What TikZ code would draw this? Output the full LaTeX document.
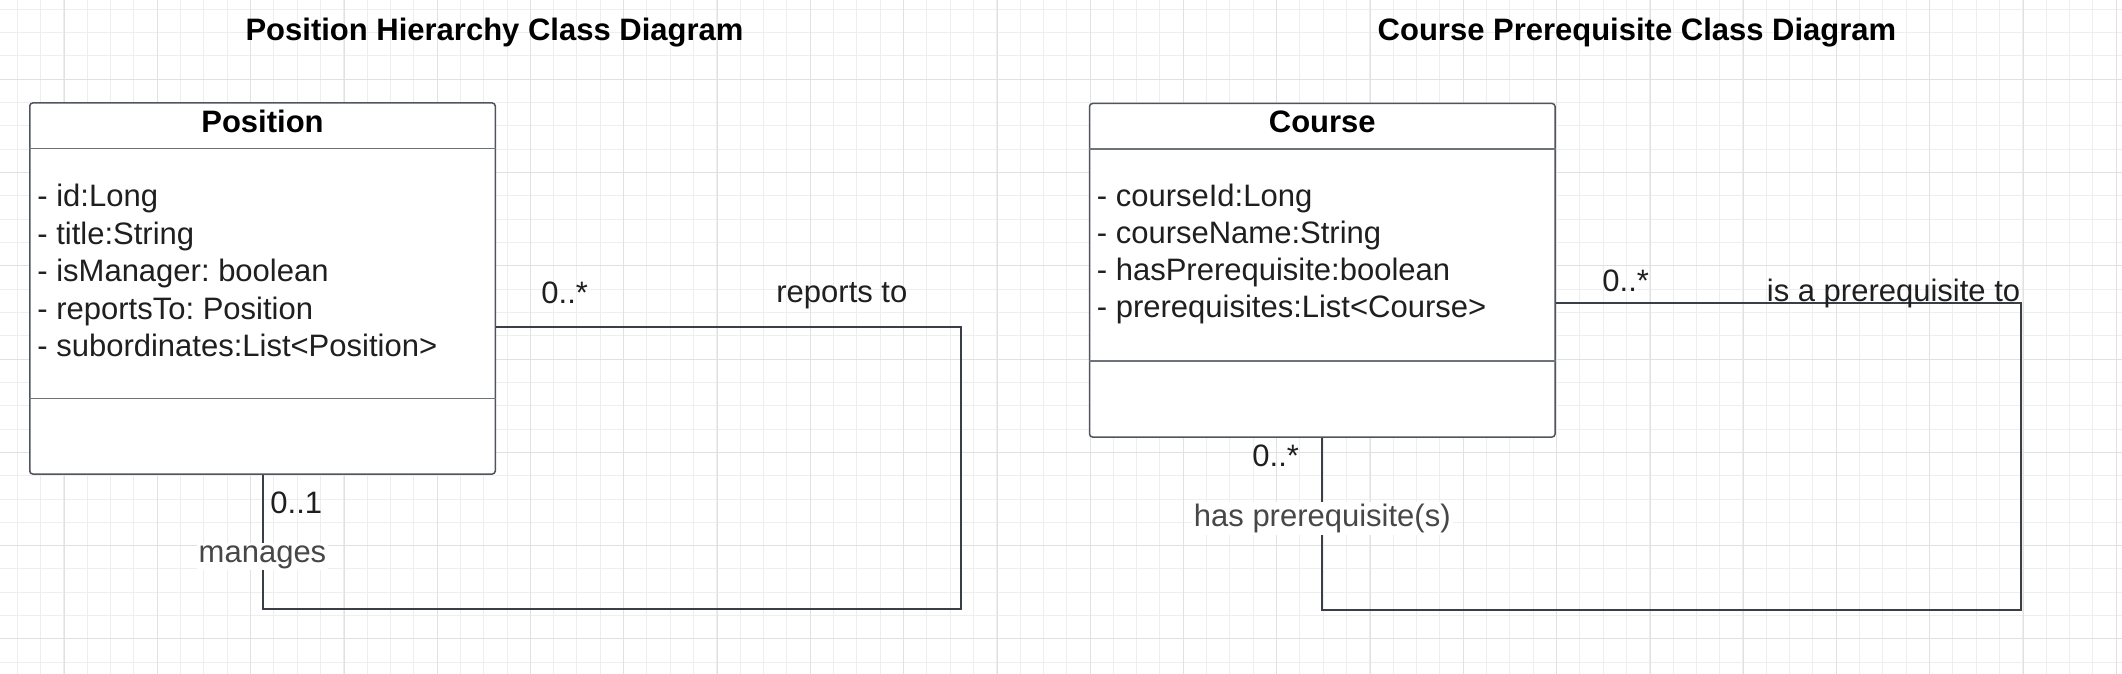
\documentclass[tikz,border=0pt]{standalone}
\usepackage{fontspec}
\setmainfont{Liberation Sans}
\usetikzlibrary{positioning}

\definecolor{gridminor}{HTML}{EEEEEE}
\definecolor{gridmajor}{HTML}{E1E1E1}
\definecolor{boxline}{HTML}{50555D}
\definecolor{linkline}{HTML}{3A3F47}
\definecolor{sepline}{HTML}{6E737A}
\definecolor{roletext}{HTML}{474747}

\tikzset{
  classbox/.style={draw=boxline, line width=0.75pt, rounded corners=1.5pt, fill=white,
    minimum width=232.75pt, inner sep=0pt},
  compsep/.style={draw=sepline, line width=0.75pt},
  heading/.style={font=\fontsize{15.5}{18}\selectfont\bfseries, inner sep=0pt},
  classname/.style={font=\fontsize{15.5}{18}\selectfont\bfseries, inner sep=0pt},
  attr/.style={font=\fontsize{15.5}{18}\selectfont\frenchspacing, text=black!88, inner sep=0pt},
  mult/.style={font=\fontsize{15.5}{18}\selectfont, text=black!88, inner sep=0pt},
  role/.style={font=\fontsize{15.5}{18}\selectfont, text=roletext, fill=white, inner sep=1pt},
  assoc/.style={draw=linkline, line width=1pt}
}

\begin{document}
\begin{tikzpicture}[x=0.5pt,y=-0.5pt]
    \useasboundingbox[fill=white] (0,0) rectangle (2122,674);
    % background grid
    \foreach \k in {0,...,90}
        \draw[gridminor, line width=0.5pt] ({17.3+23.32*\k},0) -- ({17.3+23.32*\k},674);
    \foreach \k in {0,...,28}
        \draw[gridminor, line width=0.5pt] (0,{9.3+23.32*\k}) -- (2122,{9.3+23.32*\k});
    \foreach \k in {0,...,22}
        \draw[gridmajor, line width=0.5pt] ({64.3+93.28*\k},0) -- ({64.3+93.28*\k},674);
    \foreach \k in {0,...,6}
        \draw[gridmajor, line width=0.5pt] (0,{79.3+93.28*\k}) -- (2122,{79.3+93.28*\k});

    % titles
    \node[heading, anchor=base] (title-pos) at (494.5,40.5) {Position Hierarchy Class Diagram};
    \node[heading, anchor=base] (title-course) at (1637,40.5) {Course Prerequisite Class Diagram};

    % Position class
    \node[classbox, minimum height=185.5pt] (position) at (262.5,288.5) {};
    \draw[compsep] ([yshift=-23.25pt]position.north west) -- ([yshift=-23.25pt]position.north east);
    \draw[compsep] ([yshift=-148pt]position.north west) -- ([yshift=-148pt]position.north east);
    \node[classname, anchor=base] (position-name) at (262.5,132.7) {Position};
    \foreach \a [count=\i] in {- id:Long, - title:String, - isManager: boolean,
                               - reportsTo: Position, - subordinates:List<Position>}
        \node[attr, anchor=base west] (pos-attr-\i) at (37,{206.7+37.5*(\i-1)}) {\a};

    % Course class
    \node[classbox, minimum height=166.75pt] (course) at (1322.3,270.25) {};
    \draw[compsep] ([yshift=-23.1pt]course.north west) -- ([yshift=-23.1pt]course.north east);
    \draw[compsep] ([yshift=-129.15pt]course.north west) -- ([yshift=-129.15pt]course.north east);
    \node[classname, anchor=base] (course-name) at (1322.3,132.3) {Course};
    \foreach \a [count=\i] in {- courseId:Long, - courseName:String,
                               - hasPrerequisite:boolean, - prerequisites:List<Course>}
        \node[attr, anchor=base west] (course-attr-\i) at (1096.5,{206.2+37*(\i-1)}) {\a};

    % self associations
    \coordinate (pos-corner) at (960.5,609.3);
    \draw[assoc] ([yshift=-19.1pt]position.east) -| (pos-corner) -| (position.south);
    \node[mult, anchor=base west] (pos-many) at (541,303.3) {0..*};
    \node[mult, anchor=base west] (pos-reports) at (776,302.5) {reports to};
    \node[mult, anchor=base west] (pos-one) at (270,513.3) {0..1};
    \node[role, anchor=base] (pos-manages) at (262.5,562) {manages};

    \coordinate (course-corner) at (2020.8,609.5);
    \draw[assoc] ([yshift=-16.6pt]course.east) -| (course-corner) -| (course.south);
    \node[mult, anchor=base west] (course-many) at (1602,292) {0..*};
    \node[mult, anchor=base west] (course-prereq-to) at (1766.5,301.6) {is a prerequisite to};
    \node[mult, anchor=base west] (course-many-b) at (1252,466.4) {0..*};
    \node[role, anchor=base] (course-has) at (1322.3,526.5) {has prerequisite(s)};
\end{tikzpicture}
\end{document}
